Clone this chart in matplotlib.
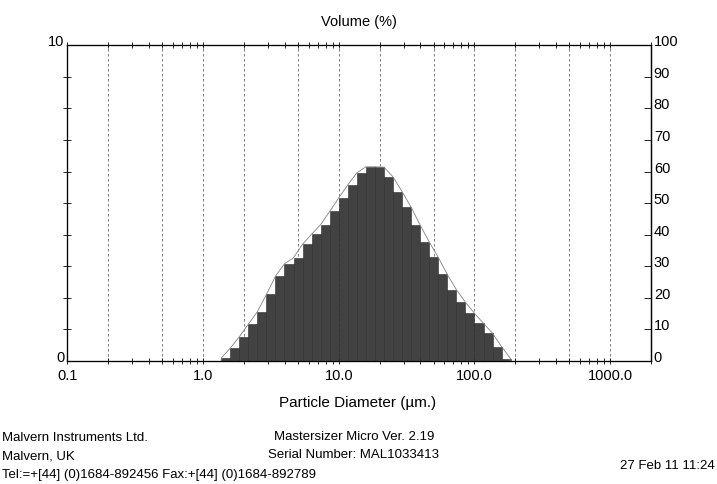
import matplotlib
matplotlib.use('Agg')
import matplotlib.pyplot as plt
import numpy as np
from matplotlib import font_manager

# size class edges (um) and volume % per class
edges = [1.36, 1.58, 1.85, 2.15, 2.51, 2.93, 3.41, 3.98, 4.64, 5.41, 6.31,
         7.36, 8.58, 10.0, 11.66, 13.59, 15.85, 18.48, 21.54, 25.12, 29.29,
         34.15, 39.81, 46.42, 54.12, 63.10, 73.56, 85.77, 100.0, 116.6,
         135.9, 158.5, 184.8]
volume = [0.09, 0.40, 0.77, 1.16, 1.56, 2.11, 2.68, 3.08, 3.27, 3.70, 4.02,
          4.32, 4.74, 5.17, 5.58, 5.96, 6.15, 6.14, 5.83, 5.36, 4.87, 4.30,
          3.77, 3.28, 2.74, 2.26, 1.86, 1.51, 1.19, 0.88, 0.45, 0.07]

grid_x = [0.2, 0.5, 1, 2, 5, 10, 20, 50, 100, 200, 500, 1000]
x_ticks = [0.1, 1, 10, 100, 1000]
x_labels = ['0.1', '1.0', '10.0', '100.0', '1000.0']
right_ticks = list(range(0, 101, 10))

names = {f.name for f in font_manager.fontManager.ttflist}
fam = 'Liberation Sans Narrow' if 'Liberation Sans Narrow' in names else 'Liberation Sans'
plt.rcParams['font.family'] = [fam, 'DejaVu Sans']
fs = 11 if fam.endswith('Narrow') else 10

fig = plt.figure(figsize=(7.17, 4.85), dpi=100)
ax = fig.add_axes([0.094, 0.2536, 0.814, 0.651])

edges_a = np.array(edges)
vol = np.array(volume)
ax.bar(edges_a[:-1], vol, width=np.diff(edges_a), align='edge',
       color='#424242', edgecolor='#2a2a2a', linewidth=0.4, zorder=3)

# thin frequency line over the outer corners of the steps
line_y = np.concatenate([[0, vol[0]], np.maximum(vol[:-1], vol[1:]), [vol[-1], 0]])
line_x = np.concatenate([[edges_a[0]], edges_a, [edges_a[-1]]])
ax.plot(line_x, line_y, color='#808080', lw=0.6, zorder=4)

for g in grid_x:
    ax.axvline(g, color='#666666', lw=0.6, ls=(0, (3, 3)), zorder=1)

ax.set_xscale('log')
ax.set_xlim(0.1, 2000)
ax.set_ylim(0, 10)
ax.set_xticks(x_ticks, x_labels, fontsize=fs + 0.5)
ax.tick_params(axis='x', which='both', direction='inout', length=4, width=0.6,
               top=True, pad=3)
ax.tick_params(axis='x', which='minor', labelbottom=False)

ax.set_yticks([0, 10], ['0', '10'], fontsize=fs + 0.5)
ax.set_yticks(range(1, 10), minor=True)
ax.tick_params(axis='y', which='major', length=0, pad=2)
ax.tick_params(axis='y', which='minor', direction='inout', length=6, width=0.6)
for lab in ax.get_yticklabels():
    lab.set_va('baseline')

for s in ax.spines.values():
    s.set_linewidth(0.9)
    s.set_color('#222222')

ax2 = ax.twinx()
ax2.set_ylim(0, 100)
ax2.set_yticks(right_ticks, [str(t) for t in right_ticks], fontsize=fs + 0.5)
ax2.tick_params(axis='y', direction='in', length=5, width=0.6, pad=2)
for lab in ax2.get_yticklabels():
    lab.set_va('baseline')
ax2.spines['right'].set_linewidth(0.9)

fig.text(359 / 717, 1 - 22 / 485, 'Volume (%)', ha='center', va='center', fontsize=fs + 0.5)
fig.text(358 / 717, 1 - 403 / 485, 'Particle Diameter (\u00b5m.)', ha='center',
         va='center', fontsize=fs + 1)
fig.text(354 / 717, 1 - 437 / 485, 'Mastersizer Micro Ver. 2.19', ha='center',
         va='center', fontsize=fs - 0.5)
fig.text(354 / 717, 1 - 455 / 485, 'Serial Number: MAL1033413', ha='center',
         va='center', fontsize=fs - 0.5)
fig.text(2 / 717, 1 - 438 / 485, 'Malvern Instruments Ltd.', ha='left',
         va='center', fontsize=fs - 0.5)
fig.text(2 / 717, 1 - 457 / 485, 'Malvern, UK', ha='left', va='center', fontsize=fs - 0.5)
fig.text(2 / 717, 1 - 475 / 485, 'Tel:=+[44] (0)1684-892456 Fax:+[44] (0)1684-892789',
         ha='left', va='center', fontsize=fs - 0.5)
fig.text(715 / 717, 1 - 466 / 485, '27 Feb 11 11:24', ha='right', va='center',
         fontsize=fs - 0.5)

fig.savefig('out.png', dpi=100)
